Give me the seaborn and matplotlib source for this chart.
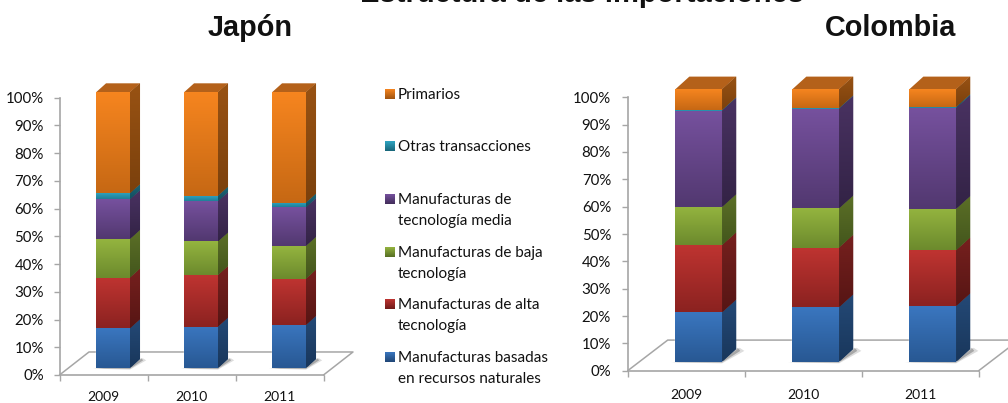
import numpy as np
import matplotlib
matplotlib.use('Agg')
import matplotlib.pyplot as plt
import matplotlib.colors as mcolors
from matplotlib.patches import Polygon
import seaborn as sns

# ==============================
# Data (percent of imports, bottom to top)
# ==============================
years = ["2009", "2010", "2011"]

japon_basadas = [14.4, 15.0, 15.6]
japon_alta = [18.4, 18.7, 16.8]
japon_baja = [14.0, 12.2, 11.9]
japon_media = [14.4, 14.6, 14.0]
japon_otras = [2.2, 2.0, 1.7]
japon_primarios = [36.6, 37.5, 40.0]

colombia_basadas = [18.1, 20.0, 20.4]
colombia_alta = [24.7, 21.9, 20.5]
colombia_baja = [14.0, 14.4, 15.2]
colombia_media = [35.4, 36.6, 37.0]
colombia_otras = [0.2, 0.2, 0.4]
colombia_primarios = [7.6, 6.9, 6.5]

legend_labels = ["Primarios", "Otras transacciones", "Manufacturas de\ntecnología media",
                 "Manufacturas de baja\ntecnología", "Manufacturas de alta\ntecnología",
                 "Manufacturas basadas\nen recursos naturales"]

# (light top, dark bottom) of each series
front_colors = [("#3A76BF", "#285893"), ("#BF3431", "#8B2220"), ("#94B43F", "#6C8A2D"),
                ("#76519E", "#523870"), ("#2FA5C2", "#1F7F98"), ("#F6851F", "#C66814")]
top_color = "#B4611A"
W, H = 1008, 403
FONT = ["Lato", "DejaVu Sans"]
TITLE_FONT = ["Liberation Sans", "DejaVu Sans"]
GRAY = "#A6A6A6"

sns.set_theme(style="white")
plt.rcParams['font.family'] = FONT


def px_axes(fig, left, right, bottom, top):
    return fig.add_axes([left / W, 1 - bottom / H, (right - left) / W, (bottom - top) / H])


def gradient(ax, extent, c_top, c_bottom, clip=None):
    rgb = np.linspace(mcolors.to_rgb(c_top), mcolors.to_rgb(c_bottom), 64)[:, None, :]
    im = ax.imshow(rgb, extent=extent, aspect="auto", interpolation="bilinear", zorder=3)
    im.set_clip_box(ax.figure.bbox)
    if clip is not None:
        im.set_clip_path(clip)
    return im


def darken(c, f):
    return tuple(np.array(mcolors.to_rgb(c)) * f)


def draw_panel(fig, stacks, wall, bars, depth, floor, tick_pad, year_pad):
    # wall: axis lines, ticks and floor
    ax = px_axes(fig, *wall)
    ax.set_xlim(0, 3)
    ax.set_ylim(0, 100)
    ax.patch.set_alpha(0)
    sns.despine(ax=ax)
    for side in ["left", "bottom"]:
        ax.spines[side].set_color(GRAY)
        ax.spines[side].set_linewidth(1.2)
    ax.set_yticks(range(0, 101, 10))
    ax.set_yticklabels([f"{v}%" for v in range(0, 101, 10)], fontsize=10.8, color="#111111")
    ax.set_xticks([0, 1, 2, 3])
    ax.set_xticklabels([])
    ax.set_xticks([0.5, 1.5, 2.5], minor=True)
    ax.set_xticklabels(years, minor=True, fontsize=10, color="#111111")
    ax.tick_params(axis="y", length=4, width=1, color=GRAY, left=True, pad=tick_pad)
    ax.tick_params(axis="x", which="major", length=4, width=1, color=GRAY, bottom=True)
    ax.tick_params(axis="x", which="minor", length=0, pad=year_pad)
    ax.plot([0, floor[0], 3 + floor[0], 3], [0, floor[1], floor[1], 0],
            color=GRAY, lw=1.1, clip_on=False)

    # bars: front plane of the 3D columns
    bx = px_axes(fig, *bars)
    bx.patch.set_alpha(0)
    bottoms = np.zeros(3)
    dx, dy, width = depth
    for values, (c_top, c_bot) in zip(stacks, front_colors):
        sns.barplot(x=years, y=values, bottom=bottoms, color=c_top, width=width,
                    saturation=1, errorbar=None, ax=bx, zorder=2)
        bottoms = bottoms + np.array(values)

    patches = list(bx.patches)
    for i, patch in enumerate(patches):
        c_top, c_bot = front_colors[i // 3]
        x, y, w, h = patch.get_x(), patch.get_y(), patch.get_width(), patch.get_height()
        gradient(bx, (x, x + w, y, y + h), c_top, c_bot)
        # side face
        side = Polygon([(x + w, y), (x + w + dx, y + dy), (x + w + dx, y + h + dy), (x + w, y + h)],
                       closed=True, facecolor=darken(c_bot, 0.72), edgecolor="none", zorder=2,
                       clip_on=False)
        bx.add_patch(side)
        gradient(bx, (x + w, x + w + dx, y, y + h + dy), darken(c_top, 0.62), darken(c_bot, 0.62), clip=side)
        # floor shadow, two layers so it looks soft
        if y == 0:
            for grow, alpha in [(1.0, 0.18), (0.5, 0.35)]:
                bx.add_patch(Polygon([(x - 0.04 * grow, -0.2), (x + w, -0.6 * grow),
                                      (x + w + dx + 0.07 * grow, dy * 0.85),
                                      (x + w + dx + 0.03 * grow, dy * 1.1), (x + w, 0.5)],
                                     closed=True, facecolor="#444444", edgecolor="none",
                                     alpha=alpha, zorder=1, clip_on=False))
        # top face
        if i // 3 == len(front_colors) - 1:
            bx.add_patch(Polygon([(x, y + h), (x + w, y + h), (x + w + dx, y + h + dy), (x + dx, y + h + dy)],
                                 closed=True, facecolor=top_color, edgecolor="none", zorder=2, clip_on=False))
    bx.set_xlim(-0.5, 2.5)
    bx.set_ylim(0, 100)
    bx.axis("off")


fig = plt.figure(figsize=(W / 100, H / 100), dpi=100, facecolor="white")

japon = [japon_basadas, japon_alta, japon_baja, japon_media, japon_otras, japon_primarios]
colombia = [colombia_basadas, colombia_alta, colombia_baja, colombia_media, colombia_otras, colombia_primarios]

draw_panel(fig, japon, (59.5, 323.5, 375, 97.7), (69, 333, 368, 92.3),
           (0.114, 3.26, 0.386), (0.335, 8.3), 7.3, 11.5)
draw_panel(fig, colombia, (627.7, 978.7, 370.7, 97.3), (640.2, 991.2, 361.7, 89.3),
           (0.12, 4.66, 0.40), (0.342, 11.2), 8, 13)

# ==============================
# Titles and legend (pixel coordinates)
# ==============================
ov = fig.add_axes([0, 0, 1, 1])
ov.patch.set_alpha(0)
ov.text(582, 2.5, "Estructura de las importaciones", ha="center", va="baseline",
        fontsize=21, fontweight="bold", family=TITLE_FONT, color="#111111")
ov.text(250.5, 36, "Japón", ha="center", va="baseline",
        fontsize=20.8, fontweight="bold", family=TITLE_FONT, color="#111111")
ov.text(891, 36, "Colombia", ha="center", va="baseline",
        fontsize=20.8, fontweight="bold", family=TITLE_FONT, color="#111111")

legend_y = [94, 146, 199, 252, 304, 357]
for label, y, (c_top, c_bot) in zip(legend_labels, legend_y, front_colors[::-1]):
    gradient(ov, (385, 395, y + 5, y - 5), c_top, darken(c_bot, 0.8))
    ov.text(398, y - 6, label, ha="left", va="top", fontsize=11, linespacing=1.68, color="#111111")
ov.set_xlim(0, W)
ov.set_ylim(H, 0)
ov.axis("off")

plt.savefig("out.png", dpi=100)
plt.close()
